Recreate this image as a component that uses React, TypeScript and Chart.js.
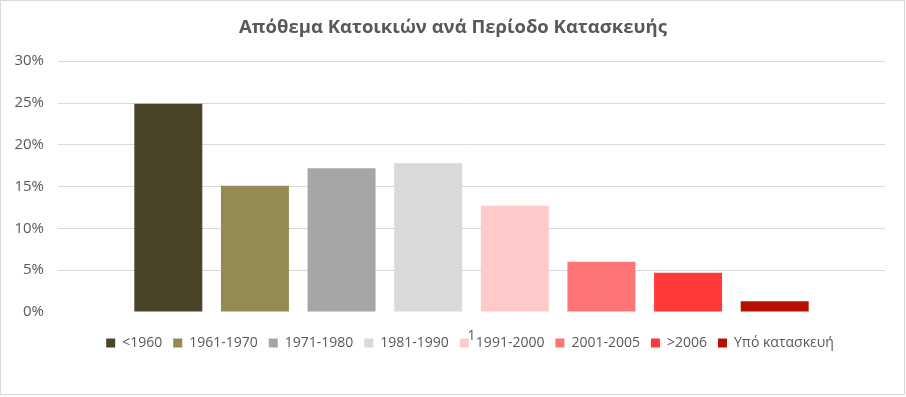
import React, { useEffect, useRef } from "react";
import { Chart, registerables } from "chart.js";

Chart.register(...registerables);

const TITLE = "Απόθεμα Κατοικιών ανά Περίοδο Κατασκευής";
const CATEGORIES = ["1"];
const SERIES_NAMES = [
  "<1960",
  "1961-1970",
  "1971-1980",
  "1981-1990",
  "1991-2000",
  "2001-2005",
  ">2006",
  "Υπό κατασκευή",
];
const SERIES_VALUES = [0.249, 0.151, 0.172, 0.178, 0.127, 0.06, 0.047, 0.013];
const SERIES_COLORS = [
  "#4a4529",
  "#948a54",
  "#a6a6a6",
  "#d9d9d9",
  "#ffcaca",
  "#ff7575",
  "#ff3838",
  "#b71000",
];
const Y_MIN = 0;
const Y_MAX = 0.3;
const Y_STEP = 0.05;

const FONT = "'Open Sans', 'DejaVu Sans', sans-serif";
const TEXT = "#595959";

const legendShift = {
  id: "legendShift",
  afterLayout(chart: any) {
    const lg = chart.legend;
    if (!lg) return;
    lg.left += 17;
    lg.right += 17;
    lg.top -= 19;
    lg.bottom -= 19;
  },
};

export default function App() {
  const ref = useRef<HTMLCanvasElement | null>(null);

  useEffect(() => {
    document.body.style.margin = "0";
    const canvas = ref.current;
    if (!canvas) return;
    const chart = new Chart(canvas, {
      type: "bar",
      data: {
        labels: CATEGORIES,
        datasets: SERIES_NAMES.map((name, i) => ({
          label: name,
          data: [SERIES_VALUES[i]],
          backgroundColor: SERIES_COLORS[i],
          borderWidth: 0,
          barPercentage: 0.785,
          categoryPercentage: 0.838,
        })),
      },
      plugins: [legendShift],
      options: {
        animation: false,
        responsive: false,
        maintainAspectRatio: false,
        layout: { padding: { left: 0, right: 0, top: 0, bottom: 18 } },
        plugins: {
          title: {
            display: true,
            text: TITLE,
            color: TEXT,
            font: { family: FONT, size: 18.5, weight: "bold" },
            padding: { top: 17, bottom: 22 },
          },
          legend: {
            position: "bottom",
            labels: {
              color: TEXT,
              font: { family: FONT, size: 14 },
              boxWidth: 9,
              boxHeight: 9,
              padding: 11,
            },
          },
          tooltip: { enabled: false },
        },
        scales: {
          x: {
            grid: { display: false, drawTicks: false },
            border: { display: false },
            ticks: {
              color: TEXT,
              font: { family: FONT, size: 14 },
              padding: 16,
              autoSkip: false,
            },
            afterFit: (scale: any) => {
              scale.height = 32;
            },
          },
          y: {
            min: Y_MIN,
            max: Y_MAX,
            border: { display: false },
            grid: {
              drawTicks: false,
              color: (ctx: any) =>
                ctx.tick && ctx.tick.value === 0 ? "rgba(0,0,0,0)" : "#d9d9d9",
            },
            ticks: {
              stepSize: Y_STEP,
              color: TEXT,
              padding: 14,
              font: { family: FONT, size: 15 },
              callback: (v: any) => Math.round(Number(v) * 100) + "%",
            },
            afterFit: (scale: any) => {
              scale.width = 58;
            },
          },
          yRightSpacer: {
            type: "linear",
            position: "right",
            display: true,
            grid: { display: false, drawOnChartArea: false },
            border: { display: false },
            ticks: { display: false },
            afterFit: (scale: any) => {
              scale.width = 21;
            },
          },
        },
      },
    });
    return () => chart.destroy();
  }, []);

  return (
    <div style={{ position: "relative", width: 906, height: 397, background: "#fff" }}>
      <canvas ref={ref} width={906} height={397} style={{ position: "absolute", left: 0, top: 0 }} />
      <div
        style={{
          position: "absolute",
          left: 0,
          top: 0,
          width: 905,
          height: 395,
          boxSizing: "border-box",
          border: "1px solid #d9d9d9",
          pointerEvents: "none",
        }}
      />
    </div>
  );
}
